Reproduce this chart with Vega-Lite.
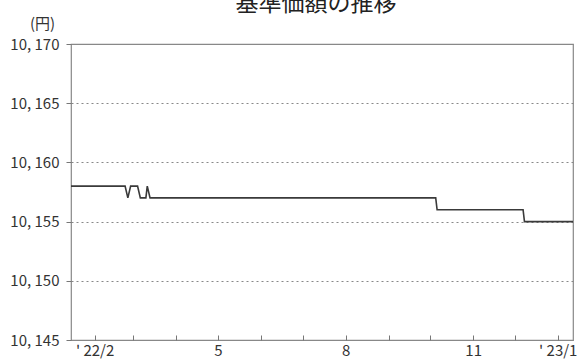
{
  "$schema": "https://vega.github.io/schema/vega-lite/v6.json",
  "autosize": "none",
  "padding": {"left": 71, "top": 44, "right": 6, "bottom": 22},
  "width": 502,
  "height": 296,
  "background": "white",
  "title": {
    "text": "基準価額の推移",
    "anchor": "middle",
    "font": "Noto Sans CJK JP",
    "fontSize": 23,
    "fontWeight": "normal",
    "color": "#222222",
    "baseline": "bottom",
    "offset": 0,
    "dx": -6,
    "dy": 23
  },
  "config": {
    "view": {"stroke": "#888888", "strokeWidth": 1.2},
    "axis": {
      "labelFont": "Noto Sans CJK JP",
      "titleFont": "Noto Sans CJK JP",
      "labelColor": "#333333",
      "titleColor": "#333333",
      "domain": false,
      "tickColor": "#777777"
    }
  },
  "data": {
    "values": [
      {"date": "2022-01-15", "nav": 10158},
      {"date": "2022-02-23", "nav": 10158},
      {"date": "2022-02-25", "nav": 10157},
      {"date": "2022-02-27", "nav": 10158},
      {"date": "2022-03-04", "nav": 10158},
      {"date": "2022-03-06", "nav": 10157},
      {"date": "2022-03-10", "nav": 10157},
      {"date": "2022-03-11", "nav": 10158},
      {"date": "2022-03-13", "nav": 10157},
      {"date": "2022-10-05", "nav": 10157},
      {"date": "2022-10-06", "nav": 10156},
      {"date": "2022-12-07", "nav": 10156},
      {"date": "2022-12-08", "nav": 10155},
      {"date": "2023-01-12", "nav": 10155}
    ]
  },
  "mark": {"type": "line", "color": "#3a3a3a", "strokeWidth": 1.6, "clip": true},
  "encoding": {
    "x": {
      "field": "date",
      "type": "temporal",
      "scale": {"type": "utc", "domain": [{"year": 2022, "month": 1, "date": 15, "utc": true}, {"year": 2023, "month": 1, "date": 12, "utc": true}]},
      "axis": {
        "title": null,
        "grid": false,
        "values": [
          {"year": 2022, "month": 2, "date": 1, "utc": true},
          {"year": 2022, "month": 3, "date": 1, "utc": true},
          {"year": 2022, "month": 4, "date": 1, "utc": true},
          {"year": 2022, "month": 5, "date": 1, "utc": true},
          {"year": 2022, "month": 6, "date": 1, "utc": true},
          {"year": 2022, "month": 7, "date": 1, "utc": true},
          {"year": 2022, "month": 8, "date": 1, "utc": true},
          {"year": 2022, "month": 9, "date": 1, "utc": true},
          {"year": 2022, "month": 10, "date": 1, "utc": true},
          {"year": 2022, "month": 11, "date": 1, "utc": true},
          {"year": 2022, "month": 12, "date": 1, "utc": true},
          {"year": 2023, "month": 1, "date": 1, "utc": true}
        ],
        "labelExpr": "utcmonth(datum.value) == 1 ? \"' 22/2\" : utcmonth(datum.value) == 4 ? '5' : utcmonth(datum.value) == 7 ? '8' : utcmonth(datum.value) == 10 ? '11' : utcmonth(datum.value) == 0 ? \"' 23/1\" : ''",
        "tickSize": -5,
        "labelPadding": 8,
        "labelFontSize": 15,
        "labelFlush": false,
        "labelBound": false,
        "labelOverlap": false
      }
    },
    "y": {
      "field": "nav",
      "type": "quantitative",
      "scale": {"domain": [10145, 10170], "nice": false, "zero": false},
      "axis": {
        "title": "(円)",
        "titleAngle": 0,
        "titleX": -29,
        "titleY": -21,
        "titleAlign": "center",
        "titleBaseline": "middle",
        "titleFontSize": 15,
        "titleFontWeight": "normal",
        "values": [10145, 10150, 10155, 10160, 10165, 10170],
        "labelExpr": "replace(format(datum.value, ','), ',', ', ')",
        "labelFontSize": 15,
        "tickSize": 5,
        "labelPadding": 7,
        "grid": true,
        "gridDash": [2, 3],
        "gridColor": "#888888",
        "gridWidth": 1
      }
    }
  }
}
